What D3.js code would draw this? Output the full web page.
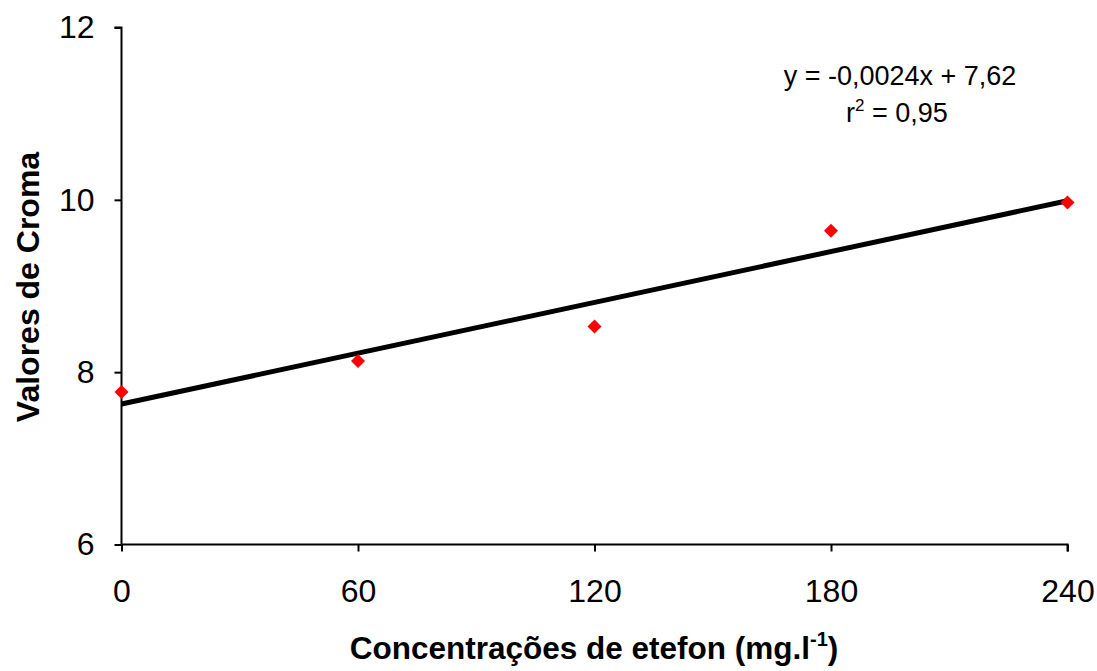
<!DOCTYPE html>
<html>
    <head>
        <script src="https://d3js.org/d3.v7.min.js"></script>
        <style>
            body { margin: 0; background: #fff; }
            svg text { font-family: "Liberation Sans", Arial, sans-serif; }
        </style>
    </head>
    <body>
        <svg width="1097" height="671"></svg>

        <script>
            // data
            const concentracoes = [0, 60, 120, 180, 240];
            const croma = [7.77, 8.13, 8.53, 9.64, 9.97];
            const trendX = [0, 240];
            const trendY = [7.63, 9.99];
            const xTicks = [0, 60, 120, 180, 240];
            const yTicks = [6, 8, 10, 12];
            const equation = "y = -0,0024x + 7,62";

            const svg = d3.select("svg");

            const x = d3.scaleLinear().domain([0, 240]).range([121.5, 1067.5]);
            const y = d3.scaleLinear().domain([6, 12]).range([544.5, 27.5]);

            // y axis
            const yAxis = svg.append("g")
                .attr("transform", "translate(121.5,0)")
                .call(d3.axisLeft(y).tickValues(yTicks).tickFormat(d3.format("d")).tickSize(7).tickPadding(20));
            // x axis
            const xAxis = svg.append("g")
                .attr("transform", "translate(0,544.5)")
                .call(d3.axisBottom(x).tickValues(xTicks).tickFormat(d3.format("d")).tickSize(7).tickPadding(28));

            [xAxis, yAxis].forEach(g => {
                g.select(".domain").attr("stroke", "#000").attr("stroke-width", 2);
                g.selectAll(".tick line").attr("stroke", "#000").attr("stroke-width", 2);
                g.selectAll(".tick text")
                    .attr("fill", "#000")
                    .style("font-size", "32px")
                    .style("font-family", "'Liberation Sans', Arial, sans-serif");
            });
            // the chart has no outer tick caps past the range
            yAxis.select(".domain").attr("d", `M-7,${y(12)}H0V${y(6)}`);
            xAxis.select(".domain").attr("d", `M${x(0)},0H${x(240)}V7`);

            // trend line
            svg.append("line")
                .attr("x1", x(trendX[0])).attr("y1", y(trendY[0]))
                .attr("x2", x(trendX[1])).attr("y2", y(trendY[1]))
                .attr("stroke", "#000")
                .attr("stroke-width", 5);

            // points (red diamonds)
            svg.append("g")
                .selectAll("path")
                .data(concentracoes)
                .join("path")
                .attr("transform", (d, i) => `translate(${x(d)},${y(croma[i])})`)
                .attr("d", "M0,-7L7,0L0,7L-7,0Z")
                .attr("fill", "#ff0000");

            // equation
            svg.append("text")
                .attr("x", 900).attr("y", 85)
                .attr("text-anchor", "middle")
                .style("font-size", "27px")
                .text(equation);
            const r2 = svg.append("text")
                .attr("x", 897).attr("y", 122)
                .attr("text-anchor", "middle")
                .style("font-size", "27px");
            r2.append("tspan").text("r");
            r2.append("tspan").attr("dy", -11).style("font-size", "17px").text("2");
            r2.append("tspan").attr("dy", 11).text(" = 0,95");

            // axis titles
            const xt = svg.append("text")
                .attr("x", 594).attr("y", 659)
                .attr("text-anchor", "middle")
                .style("font-size", "31.5px")
                .style("font-weight", "bold")
                .text("Concentrações de etefon (mg.l");
            xt.append("tspan").attr("dy", -13).style("font-size", "20px").text("-1");
            xt.append("tspan").attr("dy", 13).text(")");

            svg.append("text")
                .attr("transform", "translate(39,287) rotate(-90)")
                .attr("text-anchor", "middle")
                .style("font-size", "32px")
                .style("font-weight", "bold")
                .text("Valores de Croma");
        </script>
    </body>
</html>
